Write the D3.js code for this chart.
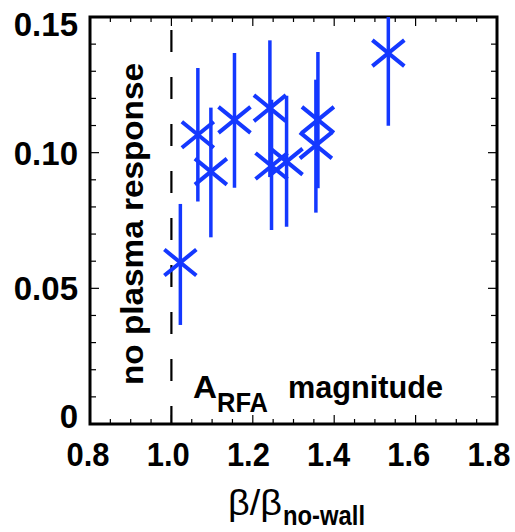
<!DOCTYPE html>
<html>
<head>
<meta charset="utf-8">
<script src="https://cdn.jsdelivr.net/npm/d3@7"></script>
<style>
    body { margin: 0; background: #fff; }
    text { font-family: 'Liberation Sans', Arial, Helvetica, sans-serif; }
</style>
</head>
<body>
<div id="chart"></div>
<script>
(function () {
    'use strict';

    // beta / beta_no-wall
    var betaRatio = [1.022, 1.065, 1.097, 1.155, 1.242, 1.246, 1.283, 1.360, 1.355, 1.533],
        // A_RFA magnitude
        magnitude = [0.0595, 0.1066, 0.0930, 0.1121, 0.1164, 0.0951, 0.0967, 0.1121, 0.1027, 0.1367],
        errLow = [0.0365, 0.0820, 0.0688, 0.0871, 0.0910, 0.0715, 0.0727, 0.0869, 0.0779, 0.1099],
        errHigh = [0.0811, 0.1312, 0.1166, 0.1367, 0.1414, 0.1195, 0.1210, 0.1371, 0.1269, 0.1630],
        xTickLabels = ['0.8', '1.0', '1.2', '1.4', '1.6', '1.8'],
        yTickLabels = ['0', '0.05', '0.10', '0.15'],
        noWallLimit = 1.0,

        width = 515,
        height = 532,
        left = 90,
        right = 497,
        top = 17,
        bottom = 424,
        blue = '#1438ff',

        x = d3.scaleLinear().domain([0.8, 1.8]).range([left, right]),
        y = d3.scaleLinear().domain([0, 0.15]).range([bottom, top]),

        svg = d3.select('#chart')
            .append('svg')
            .attr('width', width)
            .attr('height', height),

        points = betaRatio.map(function (b, i) {
            return {x: b, y: magnitude[i], lo: errLow[i], hi: errHigh[i]};
        });

    svg.append('clipPath')
        .attr('id', 'plotClip')
        .append('rect')
        .attr('x', left)
        .attr('y', top)
        .attr('width', right - left)
        .attr('height', bottom - top);

    // minor + major ticks, pointing inwards on all four sides
    var xMinor = d3.range(0.8, 1.8001, 0.05),
        yMinor = d3.range(0, 0.1501, 0.01),
        ticks = svg.append('g').style('stroke', '#000').style('stroke-width', 1.2);

    xMinor.forEach(function (v) {
        var major = Math.abs(v * 5 - Math.round(v * 5)) < 1e-6,
            len = major ? 9 : 5;
        ticks.append('line').attr('x1', x(v)).attr('x2', x(v)).attr('y1', bottom).attr('y2', bottom - len);
        ticks.append('line').attr('x1', x(v)).attr('x2', x(v)).attr('y1', top).attr('y2', top + len);
    });
    yMinor.forEach(function (v) {
        var major = Math.abs(v * 20 - Math.round(v * 20)) < 1e-6,
            len = major ? 9 : 6;
        ticks.append('line').attr('y1', y(v)).attr('y2', y(v)).attr('x1', left).attr('x2', left + len);
        ticks.append('line').attr('y1', y(v)).attr('y2', y(v)).attr('x1', right).attr('x2', right - len);
    });

    // dashed no-wall limit
    svg.append('line')
        .attr('x1', x(noWallLimit))
        .attr('x2', x(noWallLimit))
        .attr('y1', bottom)
        .attr('y2', top)
        .style('stroke', '#000')
        .style('stroke-width', 2.2)
        .style('stroke-dasharray', '22,25')
        .style('stroke-dashoffset', 4);

    // frame
    svg.append('rect')
        .attr('x', left)
        .attr('y', top)
        .attr('width', right - left)
        .attr('height', bottom - top)
        .style('fill', 'none')
        .style('stroke', '#000')
        .style('stroke-width', 3);

    var data = svg.append('g').attr('clip-path', 'url(#plotClip)');

    data.selectAll('.err')
        .data(points)
        .enter()
        .append('line')
        .attr('class', 'err')
        .attr('x1', function (d) { return x(d.x); })
        .attr('x2', function (d) { return x(d.x); })
        .attr('y1', function (d) { return y(d.lo); })
        .attr('y2', function (d) { return y(d.hi); })
        .style('stroke', blue)
        .style('stroke-width', 3.5);

    data.selectAll('.mark')
        .data(points)
        .enter()
        .append('path')
        .attr('class', 'mark')
        .attr('d', function (d) {
            var cx = x(d.x), cy = y(d.y), w = 16, h = 13;
            return 'M' + (cx - w) + ',' + (cy - h) + 'L' + (cx + w) + ',' + (cy + h) +
                'M' + (cx - w) + ',' + (cy + h) + 'L' + (cx + w) + ',' + (cy - h);
        })
        .style('fill', 'none')
        .style('stroke', blue)
        .style('stroke-width', 4);

    // tick labels (the labels drift a little left of their ticks in the original)
    svg.selectAll('.xlab')
        .data(xTickLabels)
        .enter()
        .append('text')
        .attr('class', 'xlab')
        .attr('x', function (d) { return x(+d) - 2 - 6 * (+d - 0.8); })
        .attr('y', 466)
        .attr('text-anchor', 'middle')
        .attr('textLength', 43)
        .attr('lengthAdjust', 'spacingAndGlyphs')
        .style('font-size', '34px')
        .style('font-weight', 'bold')
        .text(function (d) { return d; });

    svg.selectAll('.ylab')
        .data(yTickLabels)
        .enter()
        .append('text')
        .attr('class', 'ylab')
        .attr('x', 78)
        .attr('y', function (d) {
            var shift = +d === 0 ? -8 : (+d === 0.15 ? 7 : 0);
            return y(+d) + shift;
        })
        .attr('dy', '0.36em')
        .attr('text-anchor', 'end')
        .style('font-size', '33px')
        .style('font-weight', 'bold')
        .text(function (d) { return d; });

    // annotations
    svg.append('text')
        .attr('transform', 'translate(143,385) rotate(-90)')
        .attr('textLength', 322)
        .attr('lengthAdjust', 'spacingAndGlyphs')
        .style('font-size', '32px')
        .style('font-weight', 'bold')
        .text('no plasma response');

    svg.append('text')
        .attr('x', 193).attr('y', 398)
        .attr('textLength', 24).attr('lengthAdjust', 'spacingAndGlyphs')
        .style('font-size', '32px').style('font-weight', 'bold')
        .text('A');
    svg.append('text')
        .attr('x', 217).attr('y', 411.5)
        .attr('textLength', 51).attr('lengthAdjust', 'spacingAndGlyphs')
        .style('font-size', '28px').style('font-weight', 'bold')
        .text('RFA');
    svg.append('text')
        .attr('x', 288).attr('y', 398)
        .attr('textLength', 155).attr('lengthAdjust', 'spacingAndGlyphs')
        .style('font-size', '32px').style('font-weight', 'bold')
        .text('magnitude');

    // x axis title
    svg.append('text')
        .attr('x', 228).attr('y', 515)
        .attr('textLength', 54).attr('lengthAdjust', 'spacingAndGlyphs')
        .style('font-size', '35px')
        .text('β/β');
    svg.append('text')
        .attr('x', 283).attr('y', 525)
        .attr('textLength', 82).attr('lengthAdjust', 'spacingAndGlyphs')
        .style('font-size', '27px').style('font-weight', 'bold')
        .text('no-wall');
}());
</script>
</body>
</html>
